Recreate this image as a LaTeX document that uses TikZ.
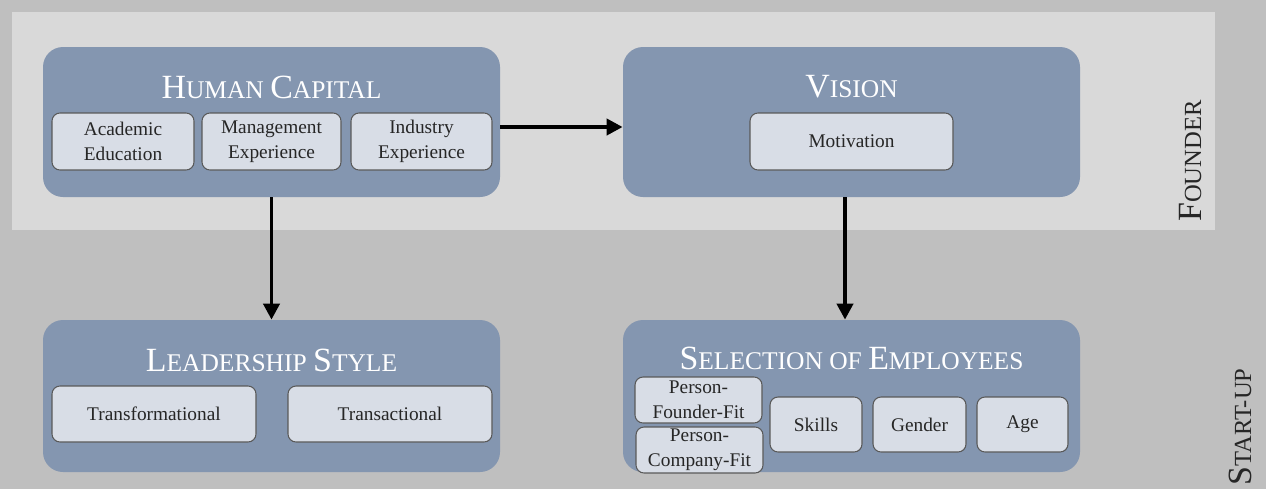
\documentclass[tikz,border=0pt]{standalone}
\usepackage{fontspec}
\setmainfont{Liberation Serif}
\newfontfamily\tnr{Liberation Serif}
\usetikzlibrary{arrows.meta}

\definecolor{bggray}{HTML}{BFBFBF}
\definecolor{bandgray}{HTML}{D9D9D9}
\definecolor{boxblue}{HTML}{8496B0}
\definecolor{subfill}{HTML}{D8DDE6}
\definecolor{subline}{HTML}{595959}

\newcommand{\bigc}[1]{{\fontsize{19.3pt}{21pt}\selectfont #1}}

\tikzset{
  mainbox/.style={fill=boxblue,rounded corners=0.4cm,minimum width=9.14cm,
    inner sep=0pt},
  titletext/.style={text=white,font=\tnr\fontsize{14.5pt}{17pt}\selectfont},
  subbox/.style={draw=subline,fill=subfill,rounded corners=0.16cm,line width=0.6pt,
    inner sep=1pt,align=center,text=black!85,font=\tnr\fontsize{11pt}{14pt}\selectfont},
  sidetext/.style={rotate=90,text=black!85,font=\tnr\fontsize{14pt}{17pt}\selectfont},
  flow/.style={-{Triangle[length=3.2mm,width=3.2mm]},line width=2.2pt}
}

\begin{document}
\begin{tikzpicture}
  \fill[bggray] (0,0) rectangle (25.32,-9.78);
  \useasboundingbox (0,0) rectangle (25.32,-9.78);
  \fill[bandgray] (0.24,-0.24) rectangle (24.3,-4.6);

  \node[sidetext] (founder) at (23.8,-3.22) {\bigc{F}OUNDER};
  \node[sidetext] (startup) at (24.8,-8.54) {\bigc{S}TART-UP};

  \node[mainbox,minimum height=3cm] (HC) at (5.43,-2.44) {};
  \node[mainbox,minimum height=3cm] (V) at (17.03,-2.44) {};
  \node[mainbox,minimum height=3.04cm] (LS) at (5.43,-7.92) {};
  \node[mainbox,minimum height=3.04cm] (SE) at (17.03,-7.92) {};

  \node[titletext] (HCt) at (5.43,-1.74) {\bigc{H}UMAN \bigc{C}APITAL};
  \node[titletext] (Vt) at (17.03,-1.74) {\bigc{V}ISION};
  \node[titletext] (LSt) at (5.43,-7.2) {\bigc{L}EADERSHIP \bigc{S}TYLE};
  \node[titletext] (SEt) at (17.03,-7.16) {\bigc{S}ELECTION OF \bigc{E}MPLOYEES};

  \node[subbox,minimum width=2.84cm,minimum height=1.14cm] (acad) at (2.46,-2.83)
    {Academic\\Education};
  \node[subbox,minimum width=2.78cm,minimum height=1.14cm] (mgmt) at (5.43,-2.83)
    {Management\\Experience};
  \node[subbox,minimum width=2.82cm,minimum height=1.14cm] (ind) at (8.43,-2.83)
    {Industry\\Experience};
  \node[subbox,minimum width=4.06cm,minimum height=1.14cm] (motiv) at (17.03,-2.83)
    {Motivation};

  \node[subbox,minimum width=4.08cm,minimum height=1.12cm] (trf) at (3.08,-8.28)
    {Transformational};
  \node[subbox,minimum width=4.08cm,minimum height=1.12cm] (trs) at (7.8,-8.28)
    {Transactional};

  \node[subbox,minimum width=2.54cm,minimum height=0.92cm] (pff) at (13.97,-8.0)
    {Person-\\Founder-Fit};
  \node[subbox,minimum width=2.54cm,minimum height=0.92cm] (pcf) at (13.99,-9.0)
    {Person-\\Company-Fit};
  \node[subbox,minimum width=1.84cm,minimum height=1.1cm] (skills) at (16.32,-8.49)
    {Skills};
  \node[subbox,minimum width=1.86cm,minimum height=1.1cm] (gender) at (18.39,-8.49)
    {Gender};
  \node[subbox,minimum width=1.82cm,minimum height=1.1cm] (age) at (20.45,-8.49)
    {Age};

  \draw[flow] ([yshift=-1mm]HC.east) -- ([yshift=-1mm]V.west);
  \draw[flow] (HC.south) -- (LS.north);
  \draw[flow] ([xshift=-1.3mm]V.south) -- ([xshift=-1.3mm]SE.north);
\end{tikzpicture}
\end{document}
